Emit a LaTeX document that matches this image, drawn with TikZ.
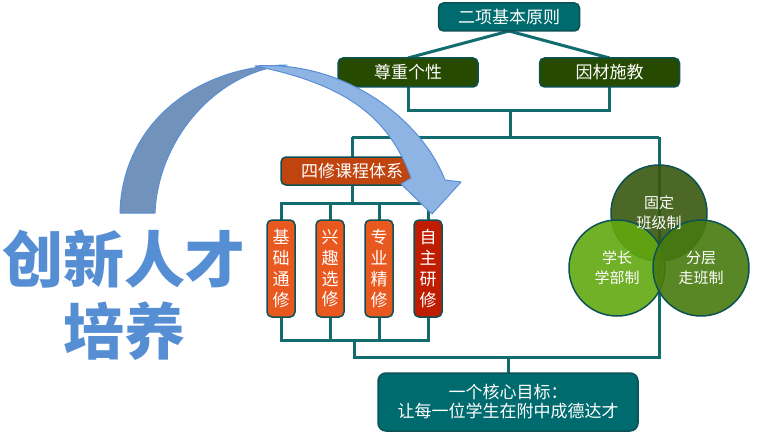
\documentclass[tikz,border=0pt]{standalone}
\usepackage{fontspec}
\setmainfont{Noto Sans CJK SC}
\usetikzlibrary{positioning, backgrounds}
\definecolor{myteal}{RGB}{0,107,110}
\definecolor{myedge}{RGB}{12,82,84}
\definecolor{mylink}{RGB}{18,108,110}
\definecolor{mydkgreen}{RGB}{38,74,0}
\definecolor{myrust}{RGB}{192,68,14}
\definecolor{myorange}{RGB}{233,88,30}
\definecolor{myred}{RGB}{192,28,0}
\definecolor{ringtop}{RGB}{56,88,14}
\definecolor{ringleft}{RGB}{98,168,16}
\definecolor{ringright}{RGB}{72,122,14}
\definecolor{myblue}{RGB}{86,142,212}
\definecolor{arrowback}{RGB}{112,146,187}
\definecolor{arrowfront}{RGB}{141,180,227}
\definecolor{arrowedge}{RGB}{90,142,214}
\tikzset{
  box/.style={draw=myedge, line width=1.5pt, rounded corners=5pt, text=white, inner sep=0pt, outer sep=0pt, align=center, font=\fontsize{17}{20}\selectfont},
  box head/.style={box, fill=myteal, minimum width=141, minimum height=28},
  box rule/.style={box, fill=mydkgreen, minimum width=140, minimum height=29},
  box course/.style={box, fill=myrust, minimum width=142, minimum height=28},
  box part/.style={box, minimum width=28, minimum height=97, font=\fontsize{17}{20.7}\selectfont},
  box goal/.style={box, fill=myteal, minimum width=260, minimum height=58, rounded corners=8pt, font=\fontsize{17}{19}\selectfont},
  ring/.style={circle, draw=myedge, line width=1.5pt, minimum size=96, inner sep=0pt, text=white, align=center, fill opacity=0.9, text opacity=1, font=\fontsize{15}{20}\selectfont},
  connect/.style={mylink, line width=3pt},
  title/.style={text=myblue, align=center, font=\fontsize{61}{72}\selectfont\bfseries},
  bend arrow/.style={draw=arrowedge, line width=1pt, line join=round}
}
\begin{document}
\begin{tikzpicture}[x=1pt,y=-1pt]
  \useasboundingbox (0,0) rectangle (758,444);

  % --- PRINCIPLES (top) ---
  \node[box head] (principle) at (509,17) {二项基本原则};
  \node[box rule] (respect) at (408,72.5) {尊重个性};
  \node[box rule] (teach) at (609.5,72.5) {因材施教};

  % --- COURSES ---
  \node[box course] (courses) at (352,171) {四修课程体系};
  \foreach \i/\x/\col/\txt in {1/281/myorange/基\\础\\通\\修, 2/330/myorange/兴\\趣\\选\\修,
                               3/379/myorange/专\\业\\精\\修, 4/428/myred/自\\主\\研\\修} {
    \node[box part, fill=\col] (course-\i) at (\x,268.5) {\txt};
  }

  % --- GOAL ---
  \node[box goal] (goal) at (508,402) {一个核心目标：\\让每一位学生在附中成德达才};

  % junctions
  \coordinate (mid-join) at (510,110);
  \coordinate (mid-bar) at (510,137);
  \coordinate (left-bar) at (352,137);
  \coordinate (right-bar) at (659,137);
  \coordinate (course-bar) at (352,203);
  \coordinate (low-bar) at (354,340);
  \coordinate (goal-bar) at (354,357);
  \coordinate (goal-join) at (508,357);
  \coordinate (right-low) at (659,357);

  % --- CONNECTIONS ---
  \begin{pgfonlayer}{background}
    \draw[connect] (principle.south) -- (respect.north);
    \draw[connect] (principle.south) -- (teach.north);
    \draw[connect] (respect.south) |- (mid-join) -| (teach.south);
    \draw[connect] (mid-join) -- (mid-bar);
    \draw[connect] (left-bar) -- (right-bar);
    \draw[connect] (left-bar) -- (courses.north);
    \draw[connect] (courses.south) -- (course-bar);
    \foreach \i in {1,2,3,4} {
      \draw[connect] (course-\i.north) |- (course-bar);
      \draw[connect] (course-\i.south) |- (low-bar);
    }
    \draw[connect] (low-bar) -- (goal-bar) -- (right-low) -- (right-bar);
    \draw[connect] (goal-join) -- (goal.north);
  \end{pgfonlayer}

  % --- THREE RINGS ---
  \node[ring, fill=ringtop] (ring-fixed) at (659,213) {};
  \node[ring, fill=ringleft] (ring-senior) at (617,268) {};
  \node[ring, fill=ringright] (ring-level) at (701,268) {};
  \node[ring, draw=none, fill=none] at (ring-fixed) {固定\\班级制};
  \node[ring, draw=none, fill=none] at (ring-senior) {学长\\学部制};
  \node[ring, draw=none, fill=none] at (ring-level) {分层\\走班制};

  % --- TITLE ---
  \node[title] (talent) at (124,295) {创新人才\\培养};

  % --- CURVED ARROW ---
  \fill[arrowback, bend arrow] (120,213) .. controls (122,125) and (195,66) .. (287,65)
    .. controls (215,72) and (158,140) .. (155,213) -- cycle;
  \fill[arrowfront, bend arrow] (255,66) .. controls (345,60) and (422,120) .. (445,180)
    -- (461,182) -- (432,214) -- (401,184) -- (411,178)
    .. controls (390,120) and (350,85) .. (255,66) -- cycle;
\end{tikzpicture}
\end{document}
